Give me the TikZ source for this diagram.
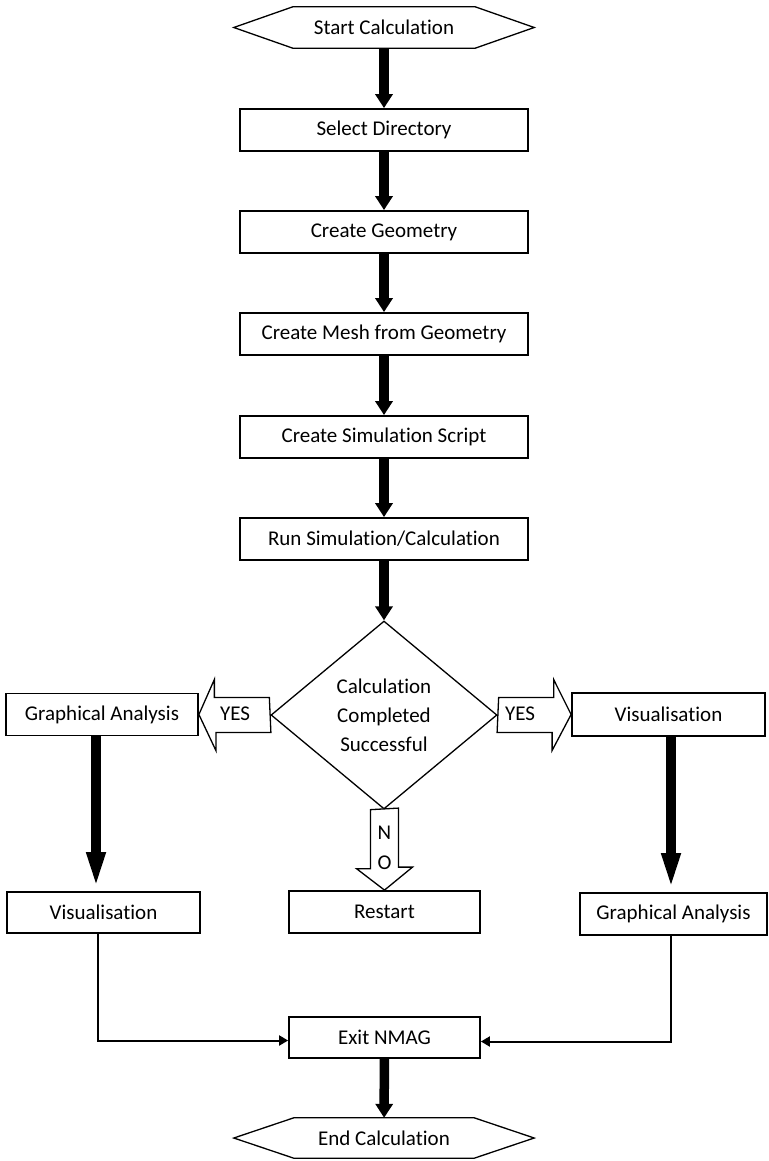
\documentclass[tikz,border=0pt]{standalone}
\usepackage{fontspec}
\setmainfont{Carlito}[Ligatures=NoCommon]
\usetikzlibrary{arrows.meta,shapes.geometric}

\begin{document}
\begin{tikzpicture}[x=1pt, y=-1pt, font=\fontsize{21}{29}\selectfont,
    box/.style={draw, line width=1.8pt, minimum width=288pt, minimum height=42pt, inner sep=0pt},
    term/.style={minimum width=182pt, minimum height=41pt, inner sep=0pt},
    hexline/.style={line width=1.3pt, line join=miter},
    decision/.style={diamond, draw, line width=1.3pt, minimum width=226pt, minimum height=188pt, inner sep=0pt, align=center},
    big/.style={line width=9.5pt, -{Triangle[length=14pt,width=17pt]}},
    biglong/.style={line width=9.5pt, -{Triangle[length=39pt,width=16.5pt]}},
    thin/.style={line width=2pt, -{Triangle[length=9pt,width=10pt]}},
    hollow/.style={line width=1.3pt, fill=white, line join=miter}]
  \useasboundingbox (0,0) rectangle (768,1161);
  % main column
  \node[term] (start) at (384,27.5) {Start Calculation};
  \node[box] (sel) at (384,130) {Select Directory};
  \node[box] (geo) at (384,232) {Create Geometry};
  \node[box] (mesh) at (384,334) {Create Mesh from Geometry};
  \node[box] (simscr) at (384,437) {Create Simulation Script};
  \node[box] (runsim) at (384,539) {Run Simulation/Calculation};
  \node[decision] (chk) at (384,715) {Calculation\\Completed\\Successful};
  % branches
  \node[box, minimum width=192pt] (gal) at (102,714.5) {Graphical Analysis};
  \node[box, minimum width=193pt, minimum height=43pt] (visr) at (668.5,714.5) {Visualisation};
  \node[box, minimum width=193pt, minimum height=41pt] (visl) at (103.5,912.5) {Visualisation};
  \node[box, minimum width=191pt] (restart) at (384.5,912) {Restart};
  \node[box, minimum width=187pt] (gar) at (673.5,914) {Graphical Analysis};
  \node[box, minimum width=191pt, minimum height=41pt] (exitn) at (384.5,1037.5) {Exit NMAG};
  \node[term, minimum width=180pt, minimum height=40pt] (finish) at (384,1138) {End Calculation};

  % terminals
  \draw[hexline] (start.north west) -- (start.north east) -- ([xshift=59pt]start.east)
    -- (start.south east) -- (start.south west) -- ([xshift=-59pt]start.west) -- cycle;
  \draw[hexline] (finish.north west) -- (finish.north east) -- ([xshift=60pt]finish.east)
    -- (finish.south east) -- (finish.south west) -- ([xshift=-60pt]finish.west) -- cycle;

  \draw[big] (start) -- (sel);
  \draw[big] (sel) -- (geo);
  \draw[big] (geo) -- (mesh);
  \draw[big] (mesh) -- (simscr);
  \draw[big] (simscr) -- (runsim);
  \draw[big] (runsim) -- (chk);

  % YES / NO block arrows
  \draw[hollow] ([shift={(-1,-17.5)}]chk.west) -- ++(-55,0) -- ++(0,-18) -- (gal.east)
    -- ++(17,36) -- ++(0,-18) -- ++(55,0) -- cycle;
  \node (yesl) at (235,714) {YES};
  \draw[hollow] ([shift={(1,-17.5)}]chk.east) -- ++(55,0) -- ++(0,-18) -- (visr.west)
    -- ++(-19,36) -- ++(0,-18) -- ++(-55,0) -- cycle;
  \node (yesr) at (520,714) {YES};
  \draw[hollow] ([xshift=-13.5pt]chk.south) -- ++(0,59) -- ++(-14,0) -- (restart.north)
    -- ++(28,-23) -- ++(-14,0) -- ++(0,-59) -- cycle;
  \node[align=center, font=\fontsize{21}{30}\selectfont] (no) at (384.5,848) {N\\O};

  \draw[biglong] ([xshift=-6pt]gal.south) -- ([xshift=-6pt]gal.south |- visl.north);
  \draw[biglong] ([xshift=2.5pt]visr.south) -- ([xshift=2.5pt]visr.south |- gar.north);

  \draw[thin] ([xshift=-5.5pt]visl.south) |- ([yshift=-3pt]exitn.west);
  \draw[thin] ([xshift=-2.5pt]gar.south) |- ([yshift=-4pt]exitn.east);
  \draw[big] (exitn) -- (finish);
\end{tikzpicture}
\end{document}
